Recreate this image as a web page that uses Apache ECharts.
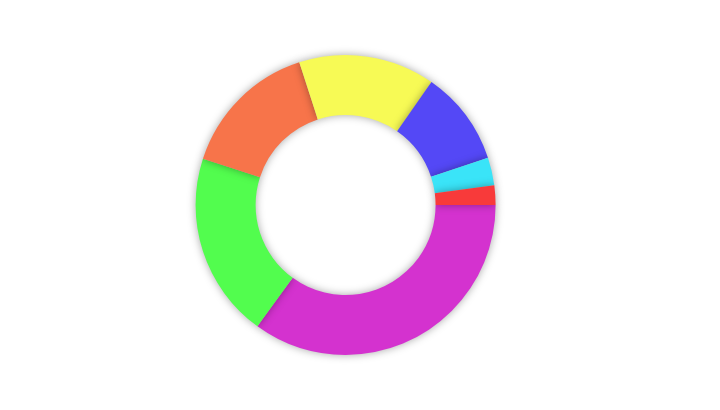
<!DOCTYPE html>
<html>
<head>
<meta charset="utf-8">
<script src="https://cdn.jsdelivr.net/npm/echarts@6/dist/echarts.min.js"></script>
<style>html,body{margin:0;padding:0;background:#fff;}#main{width:720px;height:410px;}</style>
</head>
<body>
<div id="main"></div>
<script>
var categories = ['A', 'B', 'C', 'D', 'E', 'F', 'G'];
var values = [35, 20, 15, 14.7, 10.2, 3, 2.1];
var colors = ['#d432cf', '#52fd4e', '#f7744a', '#f7fa55', '#5448f6', '#3ae4f8', '#f83a3a'];

var chart = echarts.init(document.getElementById('main'));
chart.setOption({
  backgroundColor: '#ffffff',
  series: [{
    type: 'pie',
    center: ['48%', '50%'],
    radius: [90, 150],
    startAngle: 0,
    clockwise: true,
    avoidLabelOverlap: false,
    data: categories.map(function (c, i) {
      return { name: c, value: values[i], itemStyle: { color: colors[i] } };
    }),
    itemStyle: {
      shadowBlur: 8,
      shadowColor: 'rgba(0,0,0,0.35)'
    },
    label: { color: 'rgba(255,255,255,0)' },
    labelLine: {
      show: true,
      showAbove: true,
      lineStyle: { color: 'rgba(255,255,255,0.6)', width: 1 },
      smooth: false,
      length: -14,
      length2: 0,
      maxSurfaceAngle: 180,
      minTurnAngle: 0
    },
    animation: false
  }]
});
</script>
</body>
</html>
